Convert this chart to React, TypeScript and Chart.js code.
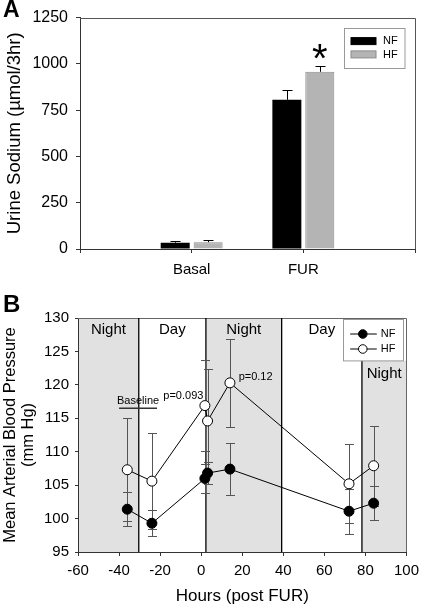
import React, { useEffect, useRef } from 'react';
import { Chart, registerables } from 'chart.js';

Chart.register(...registerables);

const FONT = '"Liberation Sans", Arial, sans-serif';

// ---------- Panel A data ----------
const sodiumCategories = ['', 'Basal', 'FUR', ''];
const sodiumNF = [null, 34, 806, null];
const sodiumHF = [null, 37, 957, null];
const sodiumNFErr = [null, 9, 53, null];
const sodiumHFErr = [null, 13, 34, null];
const sodiumHFMark = [null, '', '*', null];
const sodiumTicks = [0, 250, 500, 750, 1000, 1250];

// ---------- Panel B data ----------
const hoursPostFUR = [-36, -24, 1.8, 3.1, 14, 72, 84];
const mapNF = [101.4, 99.3, 106.0, 106.8, 107.4, 101.1, 102.3];
const mapNFErr = [2.5, 1.95, 2.2, 1.6, 3.85, 3.35, 2.5];
const mapHF = [107.3, 105.6, 116.9, 114.6, 120.3, 105.2, 107.9];
const mapHFErr = [7.7, 7.2, 6.8, 7.8, 6.6, 5.9, 5.95];
const mapPValues = ['', '', 'p=0.093', '', 'p=0.12', '', ''];
const hourTicks = [-60, -40, -20, 0, 20, 40, 60, 80, 100];
const mapTicks = [95, 100, 105, 110, 115, 120, 125, 130];
const phaseStart = [-60, -30.4, 2.3, 39.2, 78.3];
const phaseEnd = [-30.4, 2.3, 39.2, 78.3, 100];
const phaseLabel = ['Night', 'Day', 'Night', 'Day', 'Night'];
const baselineLabel = 'Baseline';
const baselineHours = [-40, -21.5];
const baselineLevel = 116.5;

function legendBoxB(chart: any) {
  const { top, right } = chart.chartArea;
  return { x: right - 63, y: top + 1.3, w: 60, h: 41.4 };
}

const sodiumPlugin = {
  id: 'sodiumExtras',
  afterDatasetsDraw(chart: any) {
    const ctx = chart.ctx;
    const ys = chart.scales.y;
    const { left, right, top, bottom } = chart.chartArea;
    ctx.save();
    // frame (top / right)
    ctx.strokeStyle = '#555';
    ctx.lineWidth = 1;
    ctx.beginPath();
    ctx.moveTo(left, Math.round(top) + 0.5);
    ctx.lineTo(Math.round(right) + 0.5, Math.round(top) + 0.5);
    ctx.lineTo(Math.round(right) + 0.5, bottom);
    ctx.stroke();
    // error bars (upper half)
    const vals = [sodiumNF, sodiumHF];
    const errs = [sodiumNFErr, sodiumHFErr];
    ctx.strokeStyle = '#000';
    errs.forEach((err, d) => {
      const meta = chart.getDatasetMeta(d);
      err.forEach((e, i) => {
        const v = vals[d][i];
        if (e == null || v == null) return;
        const bar = meta.data[i];
        const x = Math.round(bar.x) + 0.5;
        const y0 = ys.getPixelForValue(v);
        const y1 = Math.round(ys.getPixelForValue(v + e)) + 0.5;
        ctx.beginPath();
        ctx.moveTo(x, y0);
        ctx.lineTo(x, y1);
        ctx.moveTo(x - 5, y1);
        ctx.lineTo(x + 5, y1);
        ctx.stroke();
      });
    });
    // significance mark, centred ~14px above the error cap
    const hfMeta = chart.getDatasetMeta(1);
    sodiumHFMark.forEach((m, i) => {
      if (!m) return;
      const v = (sodiumHF[i] as number) + (sodiumHFErr[i] as number);
      const x = hfMeta.data[i].x;
      const target = ys.getPixelForValue(v) - 14;
      ctx.fillStyle = '#000';
      ctx.font = `40px ${FONT}`;
      ctx.textAlign = 'center';
      ctx.textBaseline = 'alphabetic';
      const mt = ctx.measureText(m);
      const base = target + (mt.actualBoundingBoxAscent - mt.actualBoundingBoxDescent) / 2;
      ctx.fillText(m, x, base);
    });
    // legend
    const bx = right - 71.5, by = top + 10, bw = 60.5, bh = 40;
    ctx.fillStyle = '#fff';
    ctx.fillRect(bx, by, bw, bh);
    ctx.strokeStyle = '#999';
    ctx.strokeRect(Math.round(bx) + 0.5, Math.round(by) + 0.5, bw, bh);
    chart.data.datasets.forEach((ds: any, d: number) => {
      const sy = by + 10 + d * 13.3;
      ctx.fillStyle = ds.backgroundColor;
      ctx.fillRect(bx + 7.5, sy, 25, 7);
      ctx.strokeStyle = ds.borderColor;
      ctx.strokeRect(bx + 7.5, sy, 25, 7);
      ctx.fillStyle = '#000';
      ctx.font = `11px ${FONT}`;
      ctx.textAlign = 'left';
      ctx.textBaseline = 'middle';
      ctx.fillText(ds.label, bx + 39.5, sy + 3.7);
    });
    ctx.restore();
  },
  afterDraw(chart: any) {
    const ctx = chart.ctx;
    ctx.save();
    ctx.fillStyle = '#000';
    ctx.font = `bold 23px ${FONT}`;
    ctx.textAlign = 'left';
    ctx.textBaseline = 'alphabetic';
    ctx.fillText('A', 3, 17);
    ctx.restore();
  },
};

const mapPlugin = {
  id: 'mapExtras',
  beforeDraw(chart: any) {
    const ctx = chart.ctx;
    const xs = chart.scales.x;
    const { top, bottom } = chart.chartArea;
    const lb = legendBoxB(chart);
    ctx.save();
    ctx.fillStyle = '#e1e1e1';
    phaseLabel.forEach((lab, i) => {
      if (lab !== 'Night') return;
      const x0 = xs.getPixelForValue(phaseStart[i]);
      const x1 = xs.getPixelForValue(phaseEnd[i]);
      const y0 = x1 > lb.x ? lb.y + lb.h : top;
      ctx.fillRect(x0, y0, x1 - x0, bottom - y0);
    });
    ctx.restore();
  },
  beforeDatasetsDraw(chart: any) {
    const ctx = chart.ctx;
    const xs = chart.scales.x;
    const ys = chart.scales.y;
    const { left, right, top, bottom } = chart.chartArea;
    const lb = legendBoxB(chart);
    ctx.save();
    // frame
    ctx.strokeStyle = '#666';
    ctx.lineWidth = 1;
    ctx.beginPath();
    ctx.moveTo(left, Math.round(top) + 0.5);
    ctx.lineTo(Math.round(right) + 0.5, Math.round(top) + 0.5);
    ctx.lineTo(Math.round(right) + 0.5, bottom);
    ctx.stroke();
    // phase boundaries
    ctx.strokeStyle = '#000';
    ctx.lineWidth = 1.3;
    phaseStart.forEach((s, i) => {
      if (i === 0) return;
      const x = xs.getPixelForValue(s);
      const y0 = x > lb.x ? lb.y + lb.h : top;
      ctx.beginPath();
      ctx.moveTo(x, y0);
      ctx.lineTo(x, bottom);
      ctx.stroke();
    });
    // phase labels
    ctx.fillStyle = '#000';
    ctx.font = `15px ${FONT}`;
    ctx.textAlign = 'center';
    ctx.textBaseline = 'alphabetic';
    phaseLabel.forEach((lab, i) => {
      const xc = xs.getPixelForValue((phaseStart[i] + phaseEnd[i]) / 2);
      const yb = xc > lb.x ? lb.y + lb.h + 17.6 : top + 15.5;
      ctx.fillText(lab, xc, yb);
    });
    // baseline annotation
    const bx0 = xs.getPixelForValue(baselineHours[0]);
    const bx1 = xs.getPixelForValue(baselineHours[1]);
    const byl = ys.getPixelForValue(baselineLevel);
    ctx.strokeStyle = '#333';
    ctx.lineWidth = 1.5;
    ctx.beginPath();
    ctx.moveTo(bx0, byl);
    ctx.lineTo(bx1, byl);
    ctx.stroke();
    ctx.font = `11px ${FONT}`;
    ctx.fillText(baselineLabel, (bx0 + bx1) / 2, byl - 3.8);
    // error bars
    ctx.strokeStyle = '#555';
    ctx.lineWidth = 1;
    const sets = [
      [mapNF, mapNFErr],
      [mapHF, mapHFErr],
    ];
    sets.forEach(([vals, errs]) => {
      vals.forEach((v, i) => {
        const x = Math.round(xs.getPixelForValue(hoursPostFUR[i])) + 0.5;
        const yt = Math.round(ys.getPixelForValue(v + errs[i])) + 0.5;
        const yb = Math.round(ys.getPixelForValue(v - errs[i])) + 0.5;
        ctx.beginPath();
        ctx.moveTo(x, yt);
        ctx.lineTo(x, yb);
        ctx.moveTo(x - 4.5, yt);
        ctx.lineTo(x + 4.5, yt);
        ctx.moveTo(x - 4.5, yb);
        ctx.lineTo(x + 4.5, yb);
        ctx.stroke();
      });
    });
    // p-values near HF points
    ctx.fillStyle = '#000';
    ctx.font = `11px ${FONT}`;
    let first = true;
    mapPValues.forEach((p, i) => {
      if (!p) return;
      const x = xs.getPixelForValue(hoursPostFUR[i]);
      const y = ys.getPixelForValue(mapHF[i]);
      if (first) {
        ctx.textAlign = 'right';
        ctx.fillText(p, x - 1.5, y - 6.7);
        first = false;
      } else {
        ctx.textAlign = 'left';
        ctx.fillText(p, x + 8.7, y - 3);
      }
    });
    ctx.restore();
  },
  afterDraw(chart: any) {
    const ctx = chart.ctx;
    const lb = legendBoxB(chart);
    ctx.save();
    ctx.fillStyle = '#fff';
    ctx.fillRect(lb.x, lb.y, lb.w, lb.h);
    ctx.strokeStyle = '#999';
    ctx.lineWidth = 1;
    ctx.strokeRect(Math.round(lb.x) + 0.5, Math.round(lb.y) + 0.5, lb.w, lb.h);
    chart.data.datasets.forEach((ds: any, d: number) => {
      const y = lb.y + 14.7 + d * 15;
      ctx.strokeStyle = '#000';
      ctx.beginPath();
      ctx.moveTo(lb.x + 6.7, y);
      ctx.lineTo(lb.x + 33.3, y);
      ctx.stroke();
      ctx.beginPath();
      ctx.arc(lb.x + 19.3, y, 4.3, 0, Math.PI * 2);
      ctx.fillStyle = ds.pointBackgroundColor;
      ctx.fill();
      ctx.stroke();
      ctx.fillStyle = '#000';
      ctx.font = `11px ${FONT}`;
      ctx.textAlign = 'left';
      ctx.textBaseline = 'middle';
      ctx.fillText(ds.label, lb.x + 37.3, y);
    });
    ctx.font = `bold 24px ${FONT}`;
    ctx.textBaseline = 'alphabetic';
    ctx.fillText('B', 3, 26.7);
    ctx.restore();
  },
};

const plain = (v: any) => String(v);

export default function App() {
  const refA = useRef<HTMLCanvasElement>(null);
  const refB = useRef<HTMLCanvasElement>(null);

  useEffect(() => {
    Chart.defaults.font.family = FONT;
    Chart.defaults.color = '#000';

    const chartA = new Chart(refA.current as HTMLCanvasElement, {
      type: 'bar',
      data: {
        labels: sodiumCategories,
        datasets: [
          {
            label: 'NF',
            data: sodiumNF as any,
            backgroundColor: '#000000',
            borderColor: '#000000',
            borderWidth: 0,
            categoryPercentage: 0.59,
            barPercentage: 0.88,
          },
          {
            label: 'HF',
            data: sodiumHF as any,
            backgroundColor: '#b4b4b4',
            borderColor: '#8a8a8a',
            borderWidth: 1,
            categoryPercentage: 0.59,
            barPercentage: 0.88,
          },
        ],
      },
      options: {
        animation: false,
        responsive: false,
        devicePixelRatio: 1,
        layout: { padding: { left: 0, top: 16, right: 10, bottom: 0 } },
        plugins: { legend: { display: false }, tooltip: { enabled: false } },
        scales: {
          x: {
            type: 'category',
            offset: false,
            grid: { offset: false, drawOnChartArea: false, tickLength: 4, color: '#333' },
            border: { color: '#333' },
            ticks: { font: { size: 15 }, padding: 8, color: '#000', maxRotation: 0, autoSkip: false },
            afterFit: (s: any) => { s.height = 36; },
          },
          y: {
            min: 0,
            max: 1250,
            afterBuildTicks: (s: any) => { s.ticks = sodiumTicks.map((v) => ({ value: v })); },
            grid: { drawOnChartArea: false, tickLength: 4, color: '#333' },
            border: { color: '#333' },
            ticks: { font: { size: 16 }, padding: 8, color: '#000', callback: plain },
            title: {
              display: true,
              text: 'Urine Sodium (\u00b5mol/3hr)',
              font: { size: 18.5, lineHeight: 1.2 },
              padding: { top: 4, bottom: 0 },
              color: '#000',
            },
            afterFit: (s: any) => { s.width = 80; },
          },
        },
      },
      plugins: [sodiumPlugin],
    } as any);

    const chartB = new Chart(refB.current as HTMLCanvasElement, {
      type: 'line',
      data: {
        datasets: [
          {
            label: 'NF',
            data: hoursPostFUR.map((h, i) => ({ x: h, y: mapNF[i] })),
            borderColor: '#000',
            borderWidth: 1,
            pointRadius: 5,
            pointBackgroundColor: '#000',
            pointBorderColor: '#000',
            pointBorderWidth: 1,
            tension: 0,
          },
          {
            label: 'HF',
            data: hoursPostFUR.map((h, i) => ({ x: h, y: mapHF[i] })),
            borderColor: '#000',
            borderWidth: 1,
            pointRadius: 5,
            pointBackgroundColor: '#fff',
            pointBorderColor: '#000',
            pointBorderWidth: 1,
            tension: 0,
          },
        ],
      },
      options: {
        animation: false,
        responsive: false,
        devicePixelRatio: 1,
        layout: { padding: { left: 0, top: 33, right: 12, bottom: 0 } },
        plugins: { legend: { display: false }, tooltip: { enabled: false } },
        scales: {
          x: {
            type: 'linear',
            min: -60,
            max: 100,
            afterBuildTicks: (s: any) => { s.ticks = hourTicks.map((v) => ({ value: v })); },
            grid: { drawOnChartArea: false, tickLength: 4, color: '#333' },
            border: { color: '#333' },
            ticks: { font: { size: 15 }, padding: 6, color: '#000', maxRotation: 0, autoSkip: false, callback: plain },
            title: {
              display: true,
              text: 'Hours (post FUR)',
              font: { size: 17, lineHeight: 1.1 },
              padding: { top: 0, bottom: 0 },
              color: '#000',
            },
            afterFit: (s: any) => { s.height = 54; },
          },
          y: {
            min: 95,
            max: 130,
            afterBuildTicks: (s: any) => { s.ticks = mapTicks.map((v) => ({ value: v })); },
            grid: { drawOnChartArea: false, tickLength: 3, color: '#333' },
            border: { color: '#333' },
            ticks: { font: { size: 15 }, padding: 6, color: '#000', callback: plain },
            title: {
              display: true,
              text: ['Mean Arterial Blood Pressure', '(mm Hg)'],
              font: { size: 16.5, lineHeight: 1.115 },
              padding: { top: 1, bottom: 0 },
              color: '#000',
            },
            afterFit: (s: any) => { s.width = 78; },
          },
        },
      },
      plugins: [mapPlugin],
    } as any);

    return () => {
      chartA.destroy();
      chartB.destroy();
    };
  }, []);

  return (
    <div style={{ position: 'absolute', left: 0, top: 0, width: 425, height: 606, background: '#fff' }}>
      <canvas ref={refA} width={425} height={285} style={{ display: 'block', width: 425, height: 285 }} />
      <canvas ref={refB} width={425} height={321} style={{ display: 'block', width: 425, height: 321 }} />
    </div>
  );
}
